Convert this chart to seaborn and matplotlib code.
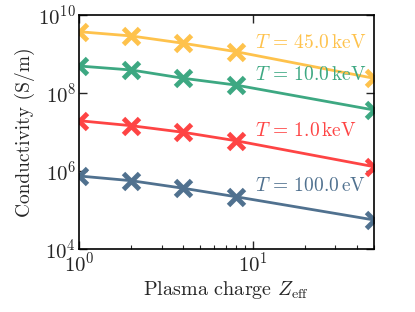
import matplotlib
matplotlib.use("Agg")
import matplotlib.pyplot as plt
import seaborn as sns
import pandas as pd
import numpy as np
from matplotlib.ticker import LogLocator, NullLocator

z_eff = [1, 2, 4, 8, 50]
sigma_45keV = [3.73e9, 2.90e9, 1.88e9, 1.15e9, 2.38e8]
sigma_10keV = [4.92e8, 3.89e8, 2.38e8, 1.60e8, 3.66e7]
sigma_1keV = [1.95e7, 1.45e7, 9.8e6, 5.98e6, 1.29e6]
sigma_100eV = [7.45e5, 5.64e5, 3.6e5, 2.19e5, 5.55e4]
labels = [r"$T\,=\,45.0\,\mathrm{keV}$", r"$T\,=\,10.0\,\mathrm{keV}$",
          r"$T\,=\,1.0\,\mathrm{keV}$", r"$T\,=\,100.0\,\mathrm{eV}$"]
label_y = [1.91e9, 2.9e8, 1.07e7, 4.1e5]
colors = ["#fec24c", "#3da882", "#fe4444", "#50718f"]

sns.set_style("ticks")
plt.rcParams["font.family"] = "serif"
plt.rcParams["font.serif"] = ["cmr10"]
plt.rcParams["mathtext.fontset"] = "cm"
plt.rcParams["axes.formatter.use_mathtext"] = True

series = [sigma_45keV, sigma_10keV, sigma_1keV, sigma_100eV]
rows = []
for lab, vals in zip(labels, series):
    for z, v in zip(z_eff, vals):
        rows.append({"Z": z, "sigma": v, "T": lab})
df = pd.DataFrame(rows)

fig = plt.figure(figsize=(4.15, 3.12), dpi=100)
ax = fig.add_axes([0.190, 0.202, 0.711, 0.750])
sns.lineplot(data=df, x="Z", y="sigma", hue="T", palette=colors, ax=ax,
             marker="x", markersize=11, markeredgewidth=3.5, linewidth=2,
             legend=False)
for ln in ax.lines:
    ln.set_markeredgecolor(ln.get_color())
    ln.set_markerfacecolor(ln.get_color())
ax.set_xscale("log")
ax.set_yscale("log")
ax.set_xlim(1, 50)
ax.set_ylim(1e4, 1e10)
ax.yaxis.set_major_locator(LogLocator(base=100.0))
ax.yaxis.set_minor_locator(NullLocator())

for lab, yv, c in zip(labels, label_y, colors):
    ax.text(10.4, yv, lab, color=c, fontsize=14, va="center", ha="left")

ax.set_xlabel(r"Plasma charge $Z_{\mathrm{eff}}$", fontsize=14.5, labelpad=2)
ax.set_ylabel("Conductivity (S/m)", fontsize=14, labelpad=2)
ax.tick_params(which="both", direction="in", top=True, right=True, labelsize=15, pad=2)
ax.tick_params(which="major", length=6, width=1)
ax.tick_params(which="minor", length=3, width=0.8, top=False, right=False)
for s in ax.spines.values():
    s.set_linewidth(1.2)
    s.set_color("black")

fig.savefig("out.png", dpi=100)
